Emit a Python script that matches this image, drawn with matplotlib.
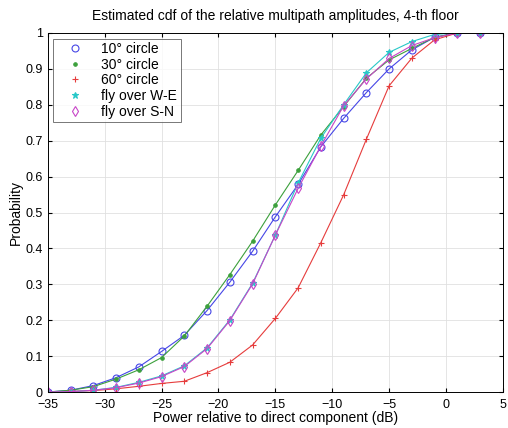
import matplotlib.pyplot as plt
import numpy as np

plt.rcParams['font.family'] = ['Liberation Sans', 'DejaVu Sans']

# power relative to direct component (dB)
power_db = [-35, -33, -31, -29, -27, -25, -23, -21, -19, -17,
            -15, -13, -11, -9, -7, -5, -3, -1, 1, 3]

circle_10 = [0, 0.005, 0.018, 0.040, 0.070, 0.113, 0.158, 0.227, 0.306, 0.392,
             0.488, 0.578, 0.683, 0.762, 0.834, 0.900, 0.953, 0.988, 1, 1]
circle_30 = [0, 0.005, 0.015, 0.036, 0.062, 0.096, 0.156, 0.239, 0.327, 0.420,
             0.521, 0.617, 0.716, 0.795, 0.874, 0.925, 0.957, 0.988, 1, 1]
circle_60 = [0, 0.002, 0.004, 0.009, 0.016, 0.024, 0.030, 0.054, 0.083, 0.131,
             0.205, 0.290, 0.416, 0.549, 0.704, 0.853, 0.930, 0.981, 1, 1]
fly_we = [0, 0.001, 0.005, 0.013, 0.027, 0.045, 0.073, 0.123, 0.201, 0.303,
          0.437, 0.582, 0.707, 0.800, 0.889, 0.946, 0.976, 0.996, 1, 1]
fly_sn = [0, 0.001, 0.005, 0.012, 0.025, 0.043, 0.071, 0.121, 0.199, 0.301,
          0.437, 0.567, 0.685, 0.797, 0.872, 0.929, 0.965, 0.987, 1, 1]

series = [
    (circle_10, 'o', '#4646e6', '10° circle'),
    (circle_30, '.', '#3ca03c', '30° circle'),
    (circle_60, '+', '#e63c3c', '60° circle'),
    (fly_we, '*', '#28c8c8', 'fly over W-E'),
    (fly_sn, 'd', '#c846c8', 'fly over S-N'),
]

fig = plt.figure(figsize=(5.08, 4.28), dpi=100)
ax = fig.add_axes([0.094, 0.084, 0.896, 0.839])

x = np.array(power_db)
handles = []
for vals, mk, col, lab in series:
    ax.plot(x, vals, '-', color=col, lw=0.8)
    h, = ax.plot(x, vals, mk, color=col, mfc='none' if mk in 'od' else col,
                 ms=5, mew=0.8, label=lab)
    handles.append(h)

ax.set_xlim(-35, 5)
ax.set_ylim(0, 1)
ax.set_xticks(np.arange(-35, 6, 5))
ax.set_yticks(np.arange(0, 1.01, 0.1))
ax.set_yticklabels(['0', '0.1', '0.2', '0.3', '0.4', '0.5', '0.6', '0.7', '0.8', '0.9', '1'])
ax.grid(True, color='#e0e0e0', lw=0.6)
ax.tick_params(direction='in', labelsize=9, top=True, right=True, length=3)
ax.tick_params(axis='x', pad=5)
for s in ax.spines.values():
    s.set_linewidth(0.7)

ax.set_title('Estimated cdf of the relative multipath amplitudes, 4-th floor', fontsize=10, pad=9)
ax.set_xlabel('Power relative to direct component (dB)', fontsize=10, labelpad=0)
ax.set_ylabel('Probability', fontsize=10, labelpad=2)

leg = ax.legend(handles=handles, loc='upper left', fontsize=10, frameon=True, fancybox=False,
                edgecolor='#555555', borderaxespad=0.4, handlelength=2.6, labelspacing=0.12,
                borderpad=0.25, handletextpad=0.6)
leg.get_frame().set_linewidth(0.7)

plt.savefig('out.png', dpi=100)
